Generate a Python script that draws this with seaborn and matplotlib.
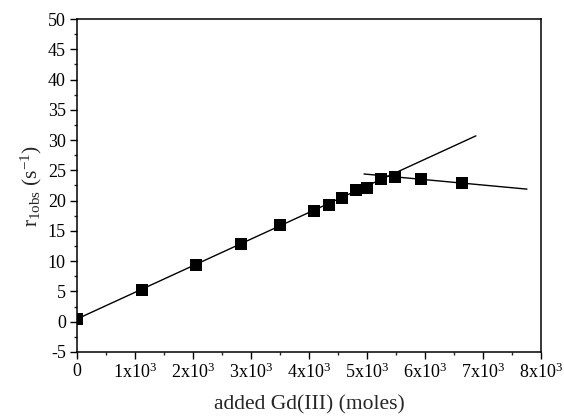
import matplotlib
matplotlib.use("Agg")
import matplotlib.pyplot as plt
import seaborn as sns
import pandas as pd
from matplotlib.ticker import MultipleLocator, FixedLocator

# data
gd_added = [0, 1120, 2050, 2830, 3500, 4090, 4340, 4570, 4810, 5010, 5250, 5490, 5940, 6640]
r1obs = [0.45, 5.2, 9.3, 12.85, 15.9, 18.35, 19.25, 20.4, 21.7, 22.15, 23.6, 23.95, 23.6, 22.85]

fit1_x = [0, 6880]
fit1_y = [0.45, 30.7]
fit2_x = [4950, 7760]
fit2_y = [24.4, 21.9]

xtick_vals = [0, 1000, 2000, 3000, 4000, 5000, 6000, 7000, 8000]
xtick_labels = ["0"] + [f"{i}x10$^3$" for i in range(1, 9)]

sns.set_theme(style="ticks")
plt.rcParams["font.family"] = ["Liberation Serif", "DejaVu Serif"]
plt.rcParams["mathtext.fontset"] = "custom"
plt.rcParams["mathtext.rm"] = "Liberation Serif"
plt.rcParams["mathtext.it"] = "Liberation Serif:italic"
plt.rcParams["mathtext.default"] = "regular"
plt.rcParams["axes.unicode_minus"] = False

df = pd.DataFrame({"x": gd_added, "y": r1obs})
f1 = pd.DataFrame({"x": fit1_x, "y": fit1_y})
f2 = pd.DataFrame({"x": fit2_x, "y": fit2_y})

fig = plt.figure(figsize=(5.64, 4.18), dpi=100)
ax = fig.add_axes([0.1365, 0.158, 0.8225, 0.7965])

sns.lineplot(data=f1, x="x", y="y", ax=ax, color="black", linewidth=1.0)
sns.lineplot(data=f2, x="x", y="y", ax=ax, color="black", linewidth=1.0)
sns.scatterplot(data=df, x="x", y="y", ax=ax, marker="s", s=66, color="black",
                edgecolor="black", linewidth=0, zorder=5)

ax.set_xlim(0, 8000)
ax.set_ylim(-5, 50)
ax.xaxis.set_major_locator(FixedLocator(xtick_vals))
ax.set_xticklabels(xtick_labels)
ax.xaxis.set_minor_locator(MultipleLocator(500))
ax.yaxis.set_major_locator(MultipleLocator(5))
ax.yaxis.set_minor_locator(MultipleLocator(2.5))

ax.tick_params(axis="both", which="major", direction="out", length=5, width=1,
               labelsize=13, colors="black", pad=3)
ax.tick_params(axis="both", which="minor", direction="out", length=2.5, width=1)
ax.tick_params(top=False, right=False)
for s in ax.spines.values():
    s.set_visible(True)
    s.set_linewidth(1.1)
    s.set_color("black")

ax.set_xlabel("added Gd(III) (moles)", fontsize=15.5, labelpad=9)
ax.set_ylabel("r$_{1obs}$ (s$^{-1}$)", fontsize=15.5, labelpad=3)

fig.savefig("out.png", dpi=100)
